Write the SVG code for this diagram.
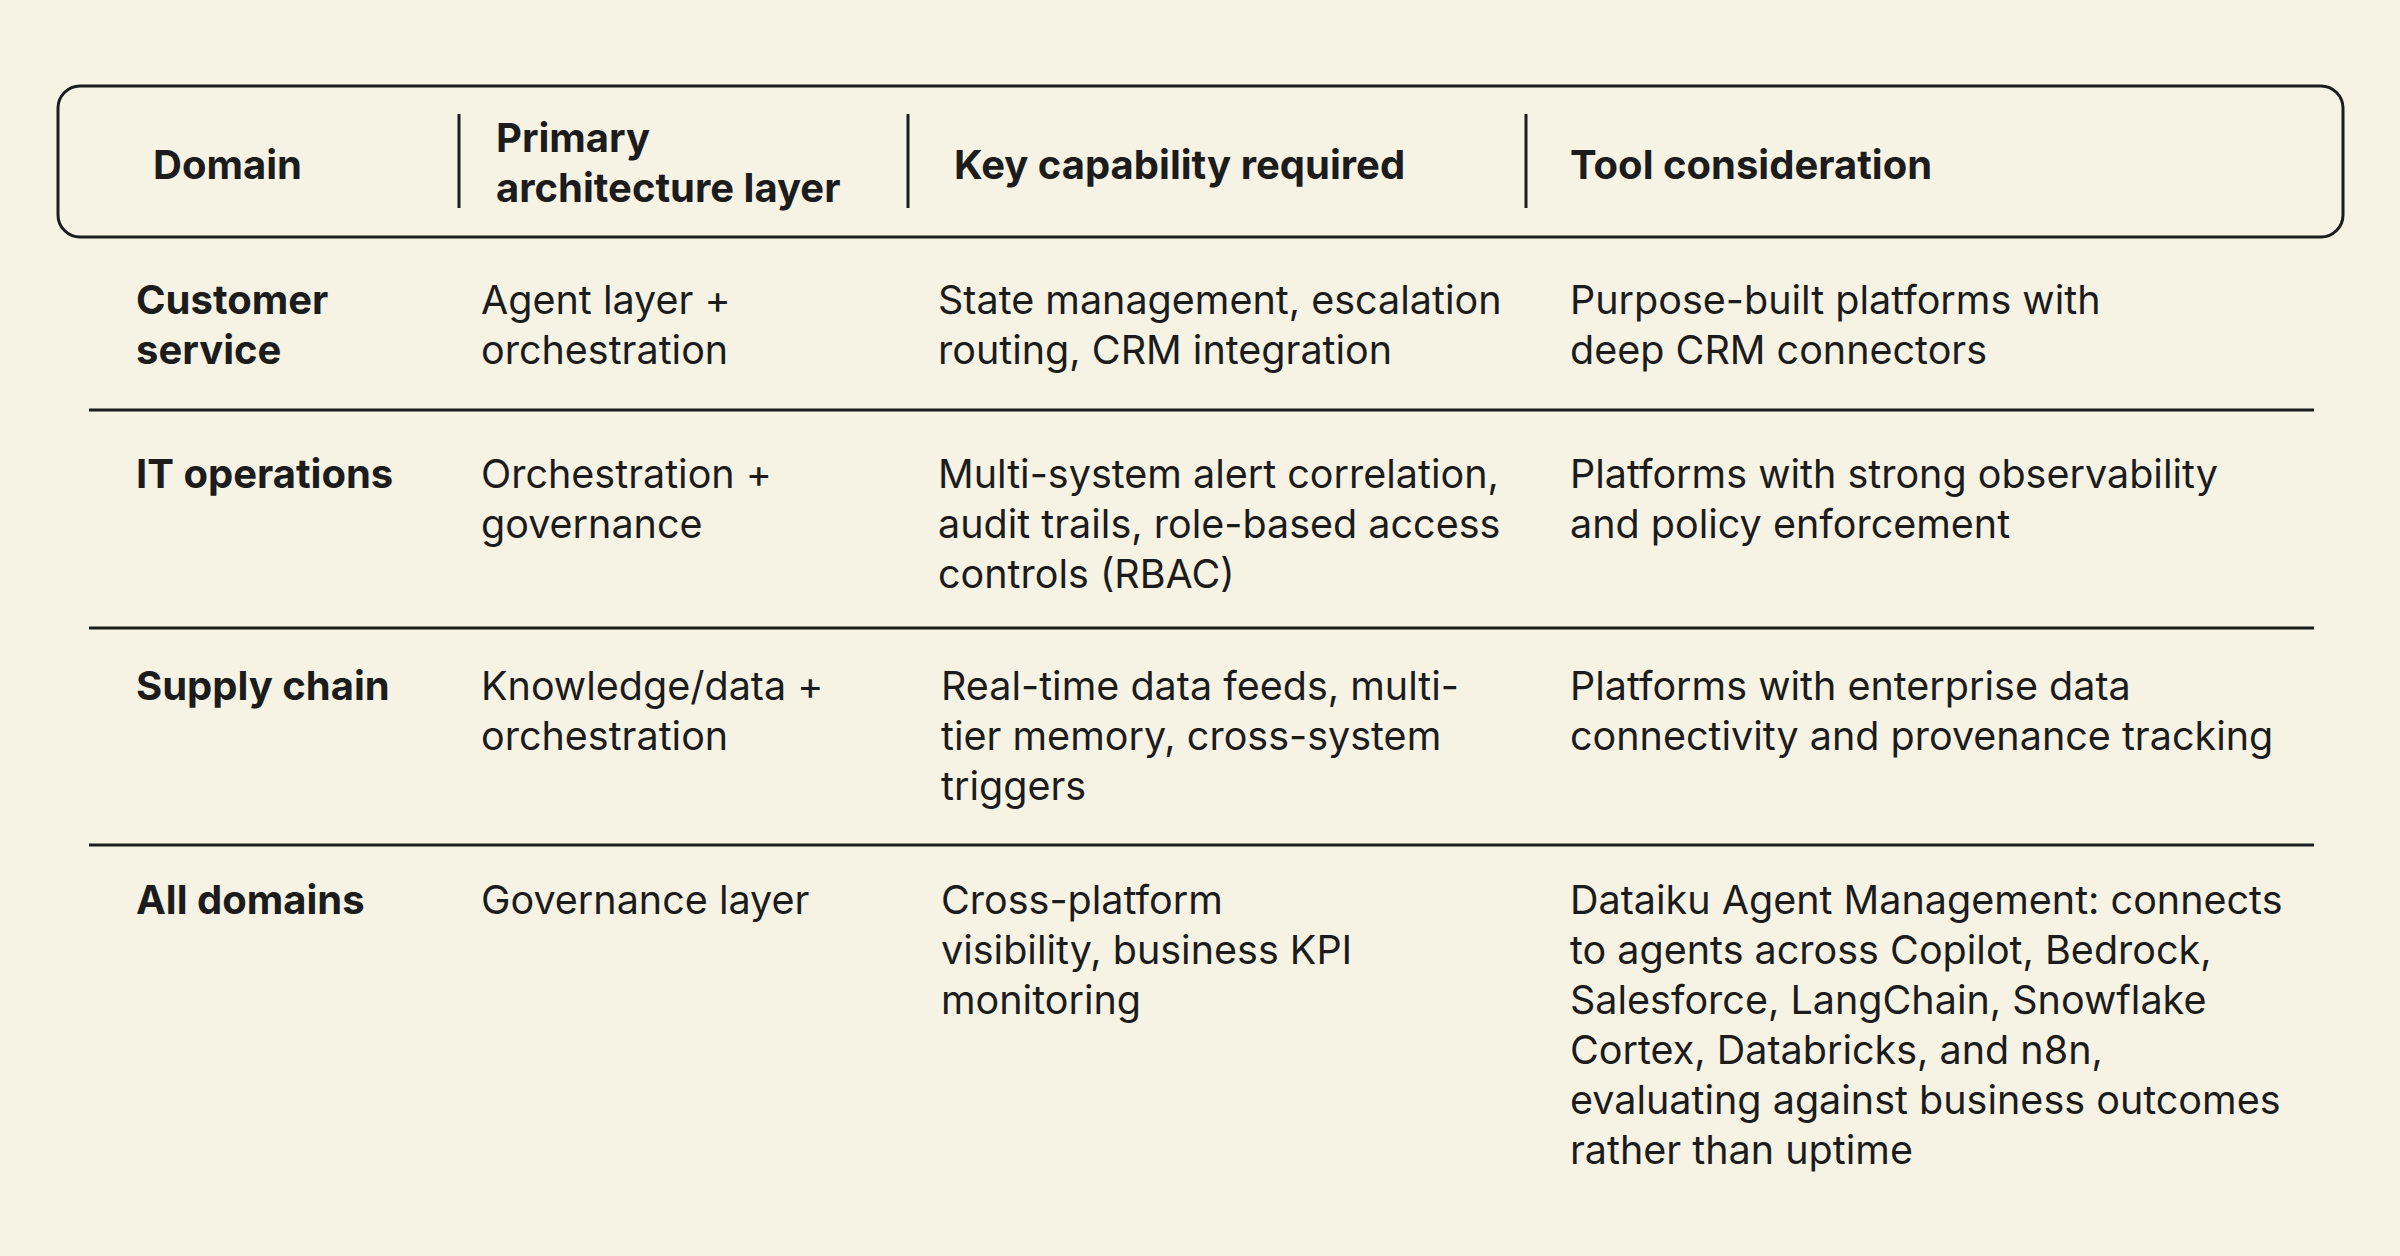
<svg xmlns="http://www.w3.org/2000/svg" width="2400" height="1256" viewBox="0 0 2400 1256">
<style>
text{font-family:"Inter","Liberation Sans",sans-serif;font-size:39.5px;fill:#1c1c1c}
.b{font-weight:700;font-size:40px}
.ln{stroke:#1c1c1c;stroke-width:3;fill:none}
</style>
<rect width="2400" height="1256" fill="#f6f3e4"/>
<g id="header">
<rect class="ln" x="58" y="86" width="2285" height="151" rx="22"/>
<line class="ln" x1="459" y1="114" x2="459" y2="208"/>
<line class="ln" x1="908" y1="114" x2="908" y2="208"/>
<line class="ln" x1="1526" y1="114" x2="1526" y2="208"/>
<text class="b" x="153" y="179">Domain</text>
<text class="b" x="496" y="152">Primary</text>
<text class="b" x="496" y="202">architecture layer</text>
<text class="b" x="954" y="179">Key capability required</text>
<text class="b" x="1570" y="179">Tool consideration</text>
</g>
<g id="connectors">
<line class="ln" x1="89" y1="410" x2="2314" y2="410"/>
<line class="ln" x1="89" y1="628" x2="2314" y2="628"/>
<line class="ln" x1="89" y1="845" x2="2314" y2="845"/>
</g>
<g id="row1">
<text class="b" x="136" y="314">Customer</text><text class="b" x="136" y="364">service</text>
<text x="481" y="314">Agent layer +</text><text x="481" y="364">orchestration</text>
<text x="938" y="314">State management, escalation</text><text x="938" y="364">routing, CRM integration</text>
<text x="1570" y="314">Purpose-built platforms with</text><text x="1570" y="364">deep CRM connectors</text>
</g>
<g id="row2">
<text class="b" x="136" y="488">IT operations</text>
<text x="481" y="488">Orchestration +</text><text x="481" y="538">governance</text>
<text x="938" y="488">Multi-system alert correlation,</text><text x="938" y="538">audit trails, role-based access</text><text x="938" y="588">controls (RBAC)</text>
<text x="1570" y="488">Platforms with strong observability</text><text x="1570" y="538">and policy enforcement</text>
</g>
<g id="row3">
<text class="b" x="136" y="700">Supply chain</text>
<text x="481" y="700">Knowledge/data +</text><text x="481" y="750">orchestration</text>
<text x="941" y="700">Real-time data feeds, multi-</text><text x="941" y="750">tier memory, cross-system</text><text x="941" y="800">triggers</text>
<text x="1570" y="700">Platforms with enterprise data</text><text x="1570" y="750">connectivity and provenance tracking</text>
</g>
<g id="row4">
<text class="b" x="136" y="914">All domains</text>
<text x="481" y="914">Governance layer</text>
<text x="941" y="914">Cross-platform</text><text x="941" y="964">visibility, business KPI</text><text x="941" y="1014">monitoring</text>
<text x="1570" y="914">Dataiku Agent Management: connects</text><text x="1570" y="964">to agents across Copilot, Bedrock,</text><text x="1570" y="1014">Salesforce, LangChain, Snowflake</text><text x="1570" y="1064">Cortex, Databricks, and n8n,</text><text x="1570" y="1114">evaluating against business outcomes</text><text x="1570" y="1164">rather than uptime</text>
</g>
</svg>
